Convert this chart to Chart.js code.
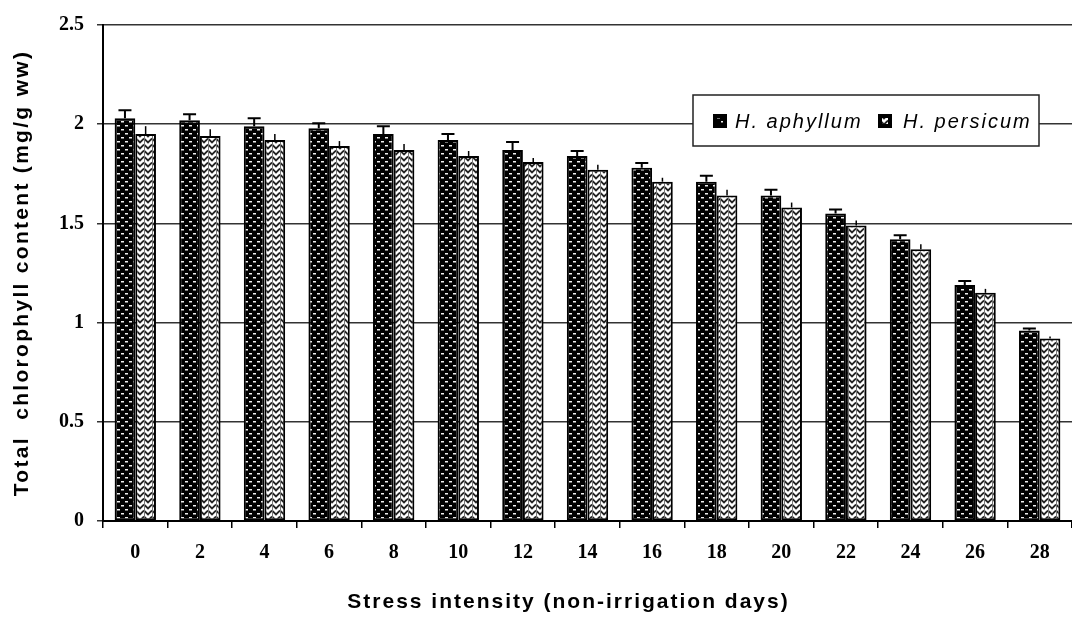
<!DOCTYPE html>
<html>
<head>
<meta charset="utf-8">
<script src="https://cdn.jsdelivr.net/npm/chart.js@4.4.1/dist/chart.umd.min.js"></script>
<style>
  html, body { margin: 0; padding: 0; background: #fff; }
  #wrap { width: 1072px; height: 617px; position: relative; }
</style>
</head>
<body>
<div id="wrap"><canvas id="c"></canvas></div>
<script>
// ---- data ----
const categories = ['0', '2', '4', '6', '8', '10', '12', '14', '16', '18', '20', '22', '24', '26', '28'];
const seriesNames = ['H. aphyllum', 'H. persicum'];
const aphyllum = [2.03, 2.02, 1.99, 1.98, 1.95, 1.92, 1.87, 1.84, 1.78, 1.71, 1.64, 1.55, 1.42, 1.19, 0.96];
const aphyllumErr = [0.04, 0.03, 0.04, 0.025, 0.04, 0.03, 0.04, 0.025, 0.025, 0.03, 0.03, 0.02, 0.02, 0.02, 0.01];
const persicum = [1.95, 1.94, 1.92, 1.89, 1.87, 1.84, 1.81, 1.77, 1.71, 1.64, 1.58, 1.49, 1.37, 1.15, 0.92];
const persicumErr = [0.04, 0.035, 0.03, 0.025, 0.03, 0.025, 0.02, 0.025, 0.02, 0.03, 0.025, 0.025, 0.025, 0.02, 0.01];
const yTickLabels = ['0', '0.5', '1', '1.5', '2', '2.5'];
const yTitle = 'Total  chlorophyll content (mg/g ww)';
const xTitle = 'Stress intensity (non-irrigation days)';

// ---- patterns ----
function makeDotPattern() {
  const t = document.createElement('canvas');
  t.width = 8; t.height = 8;
  const g = t.getContext('2d');
  g.fillStyle = '#000'; g.fillRect(0, 0, 8, 8);
  g.fillStyle = '#f0f0f0';
  g.fillRect(1, 1, 3, 1.5);
  g.fillRect(5, 5, 3, 1.5);
  return g.createPattern(t, 'repeat');
}
function makeChevronPattern() {
  const t = document.createElement('canvas');
  t.width = 8; t.height = 6;
  const g = t.getContext('2d');
  g.fillStyle = '#fff'; g.fillRect(0, 0, 8, 6);
  g.strokeStyle = '#222'; g.lineWidth = 1.8;
  g.beginPath();
  g.moveTo(0, 0.5); g.lineTo(4, 4.5); g.lineTo(8, 0.5);
  g.moveTo(0, 6.5); g.lineTo(4, 10.5); g.lineTo(8, 6.5);
  g.moveTo(0, -5.5); g.lineTo(4, -1.5); g.lineTo(8, -5.5);
  g.stroke();
  g.fillStyle = '#777';
  g.fillRect(0, 0, 1, 6);
  return g.createPattern(t, 'repeat');
}
const patA = makeDotPattern();
const patP = makeChevronPattern();
const errors = [aphyllumErr, persicumErr];

// ---- plugins ----
const spacedTitles = {
  id: 'spacedTitles',
  beforeDraw(chart) {
    [['x', '2px', -19], ['y', '2.3px', 0]].forEach(([id, sp, dx]) => {
      const s = chart.scales[id];
      if (s && !s._spacedPatched) {
        const orig = s.drawTitle;
        s.drawTitle = function () {
          const ctx = this.ctx;
          ctx.save();
          ctx.letterSpacing = sp;
          ctx.translate(dx, 0);
          orig.apply(this, arguments);
          ctx.restore();
        };
        s._spacedPatched = true;
      }
    });
  }
};

const errorBars = {
  id: 'errorBars',
  afterDatasetsDraw(chart) {
    const ctx = chart.ctx;
    const ys = chart.scales.y;
    chart.data.datasets.forEach((ds, di) => {
      const meta = chart.getDatasetMeta(di);
      meta.data.forEach((bar, i) => {
        const top = ys.getPixelForValue(ds.data[i] + errors[di][i]);
        ctx.save();
        ctx.strokeStyle = '#000';
        ctx.lineWidth = di === 0 ? 2 : 1.5;
        ctx.beginPath();
        ctx.moveTo(bar.x, bar.y);
        ctx.lineTo(bar.x, top);
        if (di === 0) {
          ctx.moveTo(bar.x - 6.5, top);
          ctx.lineTo(bar.x + 6.5, top);
        }
        ctx.stroke();
        ctx.restore();
      });
    });
  }
};

const boxLegend = {
  id: 'boxLegend',
  afterDraw(chart) {
    const ctx = chart.ctx;
    const ca = chart.chartArea;
    const x0 = ca.right - 379, y0 = ca.top + 70, w = 346, h = 51;
    ctx.save();
    ctx.fillStyle = '#fff';
    ctx.fillRect(x0, y0, w, h);
    ctx.strokeStyle = '#222';
    ctx.lineWidth = 1.5;
    ctx.strokeRect(x0, y0, w, h);
    ctx.font = 'italic 20px "Liberation Sans", Arial, sans-serif';
    ctx.letterSpacing = '2px';
    ctx.textBaseline = 'middle';
    ctx.fillStyle = '#000';
    const cy = y0 + 26;
    const items = [
      { sx: x0 + 20, tx: x0 + 42, pat: patA },
      { sx: x0 + 185, tx: x0 + 210, pat: patP }
    ];
    chart.data.datasets.forEach((ds, i) => {
      const it = items[i];
      ctx.fillStyle = '#000';
      ctx.fillRect(it.sx, cy - 7, 14, 14);
      ctx.fillStyle = it.pat;
      ctx.fillRect(it.sx + 4, cy - 3, 6, 6);
      ctx.fillStyle = '#000';
      ctx.fillText(ds.label, it.tx, cy + 1);
    });
    ctx.restore();
  }
};

// ---- chart ----
const sansBold = { family: '"Liberation Sans", Arial, sans-serif', size: 21, weight: 'bold' };
const serifBold = { family: '"Liberation Serif", "Times New Roman", serif', size: 20, weight: 'bold' };

new Chart(document.getElementById('c'), {
  type: 'bar',
  data: {
    labels: categories,
    datasets: [
      {
        label: seriesNames[0], data: aphyllum,
        backgroundColor: patA, borderColor: '#000', borderWidth: 2, borderSkipped: false,
        barPercentage: 1.0, categoryPercentage: 0.64
      },
      {
        label: seriesNames[1], data: persicum,
        backgroundColor: patP, borderColor: '#000', borderWidth: 2, borderSkipped: false,
        barPercentage: 1.0, categoryPercentage: 0.64
      }
    ]
  },
  options: {
    responsive: true,
    maintainAspectRatio: false,
    animation: false,
    layout: { padding: { top: 22, right: 0, left: 0, bottom: 0 } },
    plugins: {
      legend: { display: false },
      tooltip: { enabled: false },
      title: { display: false }
    },
    scales: {
      x: {
        grid: { display: true, drawOnChartArea: false, drawTicks: true, tickLength: 7, color: '#000', lineWidth: 1.5, offset: true },
        border: { display: true, color: '#000', width: 2 },
        ticks: { color: '#000', font: serifBold, padding: 13, maxRotation: 0, autoSkip: false },
        title: { display: true, text: xTitle, color: '#000', font: sansBold, padding: { top: 0, bottom: 2 } },
        afterFit(s) { s.height = 96; }
      },
      y: {
        min: 0, max: 2.5,
        ticks: {
          stepSize: 0.5, color: '#000', font: serifBold, padding: 13,
          callback: (v, i) => yTickLabels[i]
        },
        grid: { color: '#333', lineWidth: 1.5, drawTicks: true, tickLength: 6 },
        border: { display: true, color: '#000', width: 2 },
        title: { display: true, text: yTitle, color: '#000', font: sansBold, padding: { top: 10, bottom: 0 } },
        afterFit(s) { s.width = 103; }
      }
    }
  },
  plugins: [spacedTitles, errorBars, boxLegend]
});
</script>
</body>
</html>
